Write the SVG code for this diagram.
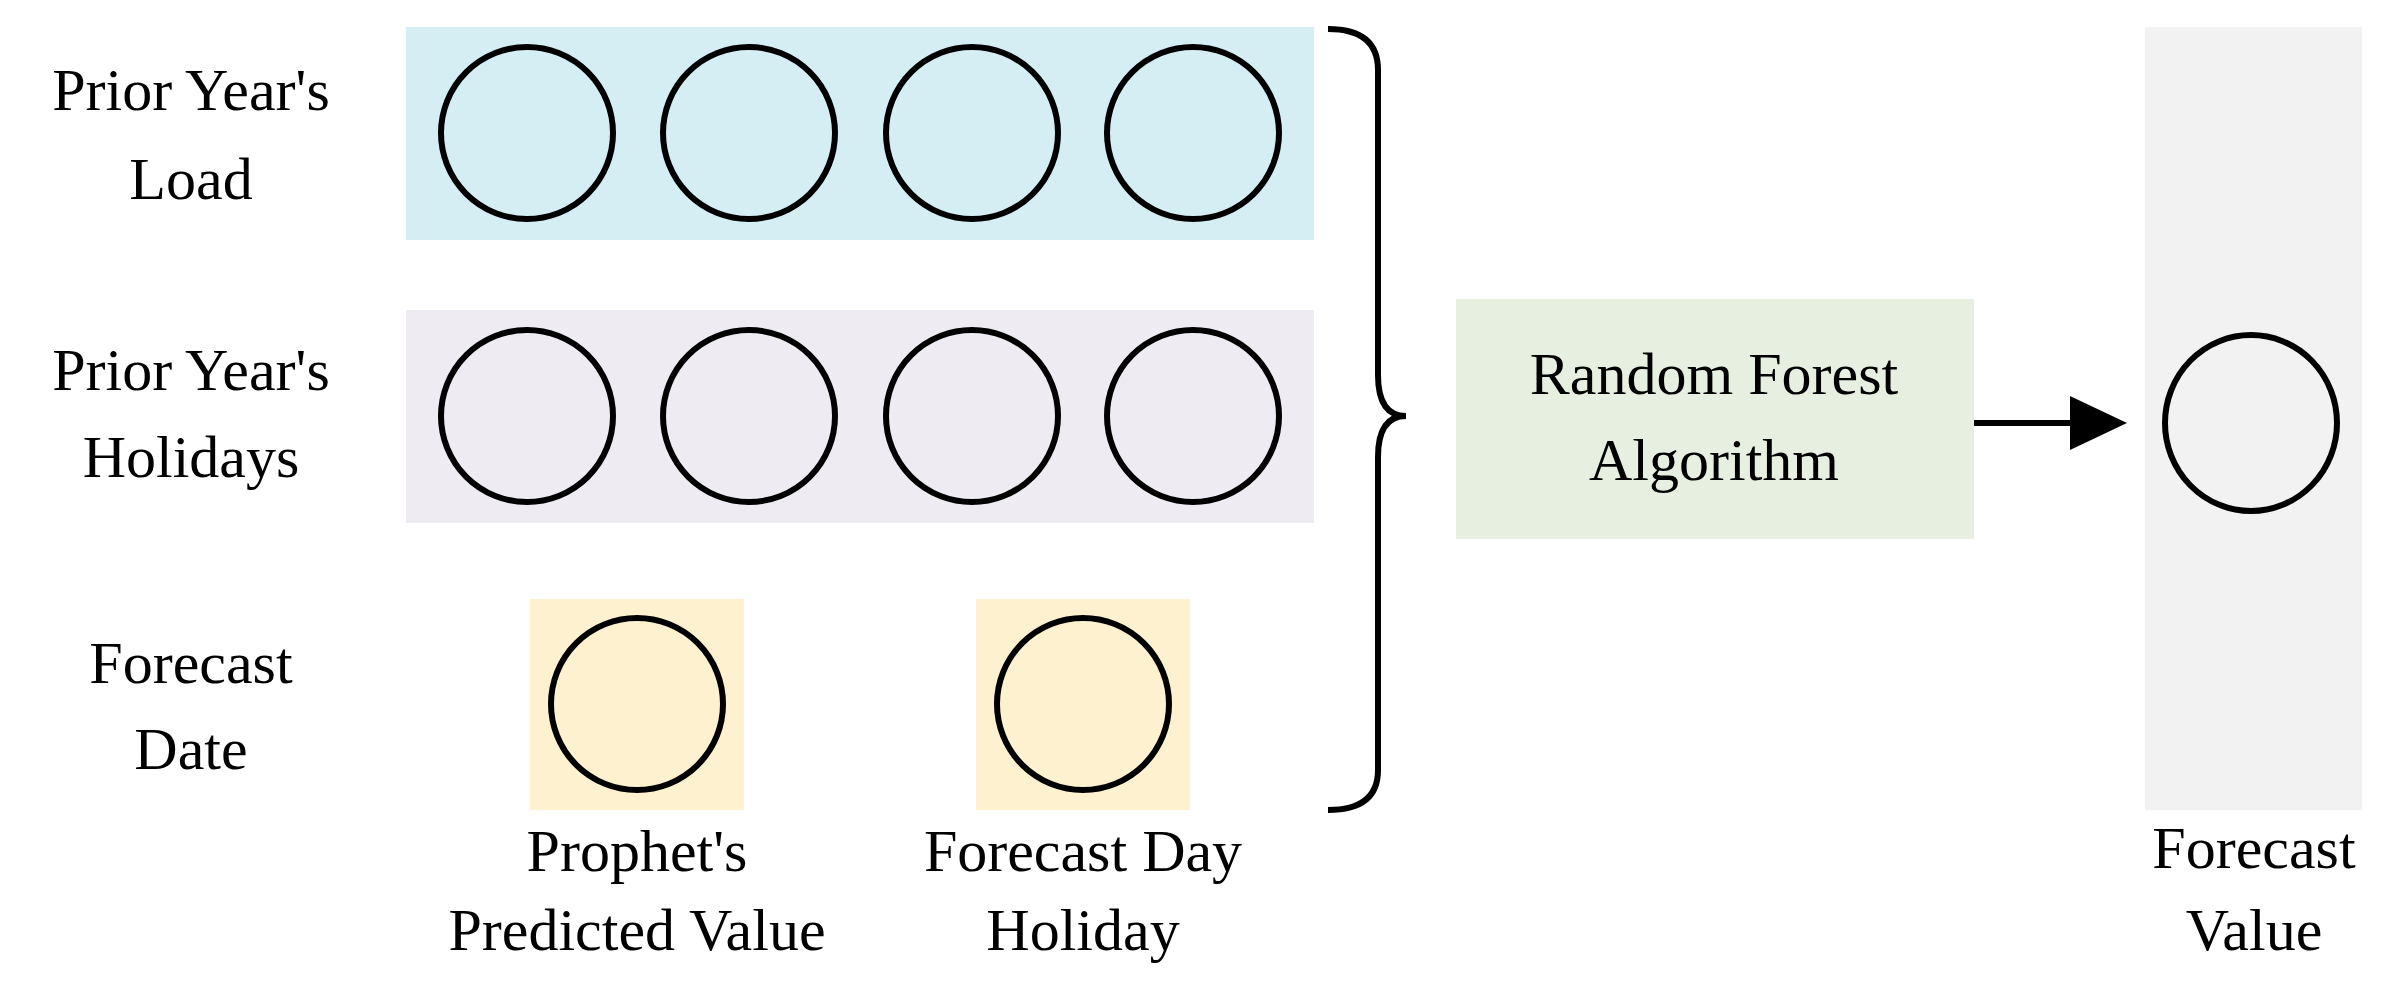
<svg xmlns="http://www.w3.org/2000/svg" width="2396" height="985" viewBox="0 0 2396 985">
<style>
text{font-family:"Liberation Serif",serif;font-size:60px;fill:#000;text-anchor:middle}
.c{fill:none;stroke:#000;stroke-width:6}
</style>
<defs><marker id="ah" markerWidth="8" markerHeight="8" refX="7" refY="4" orient="auto" markerUnits="userSpaceOnUse" viewBox="0 0 8 8"><path d="M0,0L8,4L0,8z"/></marker></defs>
<rect width="2396" height="985" fill="#fff"/>
<g id="load">
<rect x="406" y="27" width="908" height="213" fill="#d5eef3"/>
<ellipse class="c" cx="527" cy="133" rx="86" ry="86"/><ellipse class="c" cx="749" cy="133" rx="86" ry="86"/><ellipse class="c" cx="972" cy="133" rx="86" ry="86"/><ellipse class="c" cx="1193" cy="133" rx="86" ry="86"/>
<text x="191" y="110">Prior Year's</text><text x="191" y="199">Load</text>
</g>
<g id="holidays">
<rect x="406" y="310" width="908" height="213" fill="#efebf3"/>
<ellipse class="c" cx="527" cy="416" rx="86" ry="86"/><ellipse class="c" cx="749" cy="416" rx="86" ry="86"/><ellipse class="c" cx="972" cy="416" rx="86" ry="86"/><ellipse class="c" cx="1193" cy="416" rx="86" ry="86"/>
<text x="191" y="390">Prior Year's</text><text x="191" y="477">Holidays</text>
</g>
<g id="date">
<text x="191" y="683">Forecast</text><text x="191" y="769">Date</text>
</g>
<g id="prophet">
<rect x="530" y="599" width="214" height="211" fill="#fdf1d0"/>
<ellipse class="c" cx="637" cy="704" rx="86" ry="86"/>
<text x="637" y="871">Prophet's</text><text x="637" y="950">Predicted Value</text>
</g>
<g id="dayholiday">
<rect x="976" y="599" width="214" height="211" fill="#fdf1d0"/>
<ellipse class="c" cx="1083" cy="704" rx="86" ry="86"/>
<text x="1083" y="871">Forecast Day</text><text x="1083" y="950">Holiday</text>
</g>
<g id="rf">
<rect x="1456" y="299" width="518" height="240" fill="#e7f0e0"/>
<text x="1714" y="394">Random Forest</text><text x="1714" y="480">Algorithm</text>
</g>
<g id="output">
<rect x="2145" y="27" width="217" height="783" fill="#f2f2f2"/>
<ellipse class="c" cx="2251" cy="423" rx="86" ry="88"/>
<text x="2254" y="868">Forecast</text><text x="2254" y="950">Value</text>
</g>
<g id="connectors">
<path d="M1328,29 Q1378,29 1378,70 L1378,375 Q1378,416 1406,416 Q1378,416 1378,457 L1378,770 Q1378,810 1328,810" fill="none" stroke="#000" stroke-width="6"/>
<line x1="1974" y1="423" x2="2075" y2="423" stroke="#000" stroke-width="6"/>
<path d="M2070,396L2127,423L2070,450z"/>
</g>
</svg>
